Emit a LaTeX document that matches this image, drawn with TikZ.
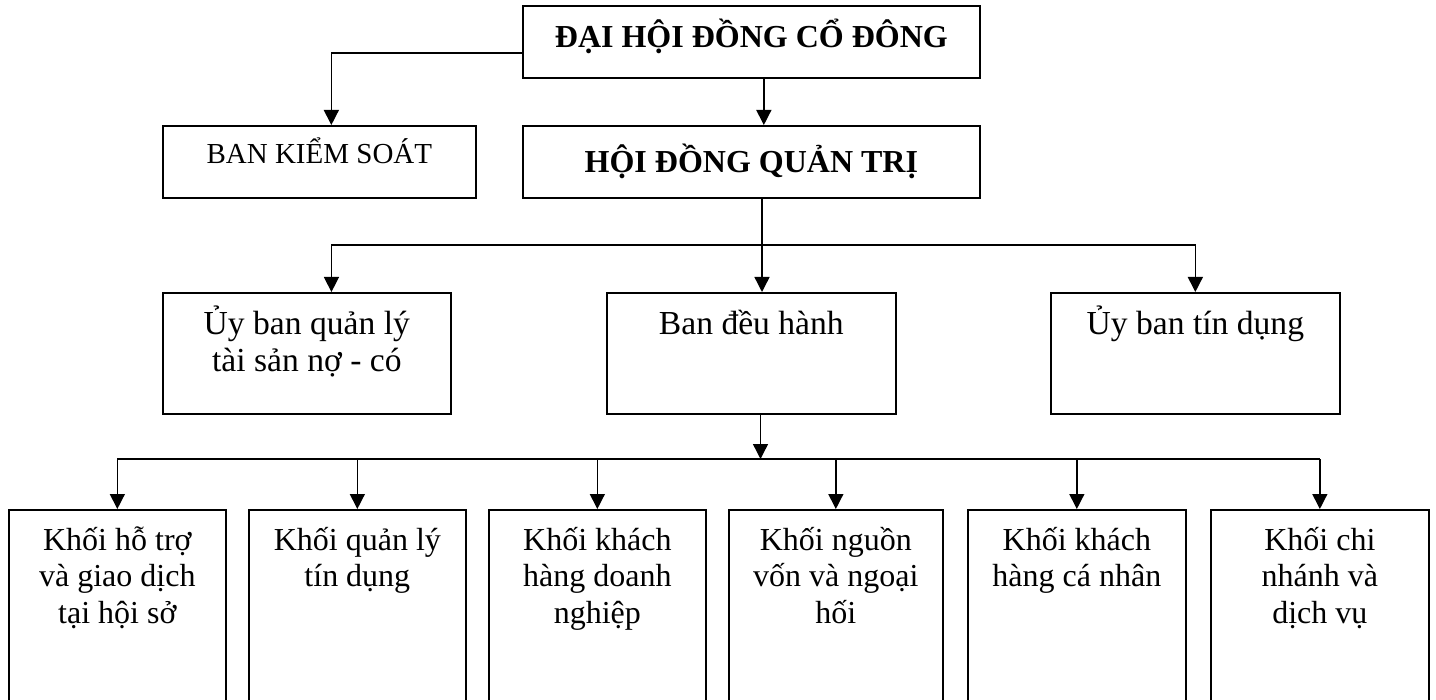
\documentclass[tikz,border=0pt]{standalone}
\usepackage{fontspec}
\setmainfont{Liberation Serif}
\usetikzlibrary{arrows.meta, positioning, calc}

\newcommand{\tstrut}{\rule{0pt}{17pt}}

\tikzset{
  box/.style={draw, line width=0.85pt, inner sep=0pt, anchor=north west},
  txt/.style={anchor=north, align=center, inner sep=0pt, font=\fontsize{16pt}{18.25pt}\selectfont},
  midtxt/.style={txt, font=\fontsize{16.8pt}{18.35pt}\selectfont},
  arr/.style={line width=0.7pt, -{Triangle[length=7.5pt, width=7.5pt]}},
  conn/.style={line width=0.7pt},
}

\begin{document}
\begin{tikzpicture}[x=0.5pt, y=-0.5pt]
  \clip (0,0) rectangle (1436,700);

  % Top levels
  \node[box, minimum width=228.5pt, minimum height=36pt] (dhdcd) at (522,5) {};
  \node[txt, font=\fontsize{16pt}{18.25pt}\selectfont\bfseries] (dhdcdt) at ([yshift=-4pt]dhdcd.north) {\tstrut ĐẠI HỘI ĐỒNG CỔ ĐÔNG};

  \node[box, minimum width=156.5pt, minimum height=36pt] (bks) at (162,125) {};
  \node[txt, font=\fontsize{14.5pt}{17pt}\selectfont] (bkst) at ([yshift=-2pt]bks.north) {\tstrut BAN KIỂM SOÁT};

  \node[box, minimum width=228.5pt, minimum height=36pt] (hdqt) at (522,125) {};
  \node[txt, font=\fontsize{16pt}{18.25pt}\selectfont\bfseries] (hdqtt) at ([yshift=-6.5pt]hdqt.north) {\tstrut HỘI ĐỒNG QUẢN TRỊ};

  % Committees
  \node[box, minimum width=144pt, minimum height=60.5pt] (ubql) at (162,292) {};
  \node[midtxt] (ubqlt) at ([yshift=-4.15pt]ubql.north) {\tstrut Ủy ban quản lý\\tài sản nợ - có};

  \node[box, minimum width=144.5pt, minimum height=60.5pt] (bdh) at (606,292) {};
  \node[midtxt] (bdht) at ([yshift=-4.15pt]bdh.north) {\tstrut Ban đều hành};

  \node[box, minimum width=144.5pt, minimum height=60.5pt] (ubtd) at (1050,292) {};
  \node[midtxt] (ubtdt) at ([yshift=-4.15pt]ubtd.north) {\tstrut Ủy ban tín dụng};

  % Divisions
  \node[box, minimum width=108.5pt, minimum height=120pt] (k1) at (8,509) {};
  \node[txt] (k1t) at ([yshift=-3.5pt]k1.north) {\tstrut Khối hỗ trợ\\và giao dịch\\tại hội sở};

  \node[box, minimum width=108.5pt, minimum height=120pt] (k2) at (248,509) {};
  \node[txt] (k2t) at ([yshift=-3.5pt]k2.north) {\tstrut Khối quản lý\\tín dụng};

  \node[box, minimum width=108.5pt, minimum height=120pt] (k3) at (488,509) {};
  \node[txt] (k3t) at ([yshift=-3.5pt]k3.north) {\tstrut Khối khách\\hàng doanh\\nghiệp};

  \node[box, minimum width=107pt, minimum height=120pt] (k4) at (728,509) {};
  \node[txt] (k4t) at ([yshift=-3.5pt]k4.north) {\tstrut Khối nguồn\\vốn và ngoại\\hối};

  \node[box, minimum width=109pt, minimum height=120pt] (k5) at (967,509) {};
  \node[txt] (k5t) at ([yshift=-3.5pt]k5.north) {\tstrut Khối khách\\hàng cá nhân};

  \node[box, minimum width=109pt, minimum height=120pt] (k6) at (1210,509) {};
  \node[txt] (k6t) at ([yshift=-3.5pt]k6.north) {\tstrut Khối chi\\nhánh và\\dịch vụ};

  % Connectors, top
  \draw[arr] ([xshift=6.25pt]dhdcd.south) -- ([xshift=6.25pt]hdqt.north);
  \draw[arr] ([yshift=-5.5pt]dhdcd.west) -| ([xshift=6pt]bks.north);

  % Connectors, committees
  \coordinate (j1) at (762,245);
  \draw[conn] (hdqt.south -| j1) -- (j1);
  \draw[arr] (j1) -| ([xshift=12.3pt]ubql.north);
  \draw[arr] (j1) -- (bdh.north -| j1);
  \draw[arr] (j1) -| (ubtd.north);

  % Connectors, divisions
  \coordinate (j2) at (760.5,459);
  \draw[arr] (bdh.south -| j2) -- (j2);
  \draw[conn] (k1.north |- j2) -- (k6.north |- j2);
  \draw[arr] (k1.north |- j2) -- (k1.north);
  \draw[arr] (k2.north |- j2) -- (k2.north);
  \draw[arr] (k3.north |- j2) -- (k3.north);
  \draw[arr] (k4.north |- j2) -- (k4.north);
  \draw[arr] (k5.north |- j2) -- (k5.north);
  \draw[arr] (k6.north |- j2) -- (k6.north);
\end{tikzpicture}
\end{document}
